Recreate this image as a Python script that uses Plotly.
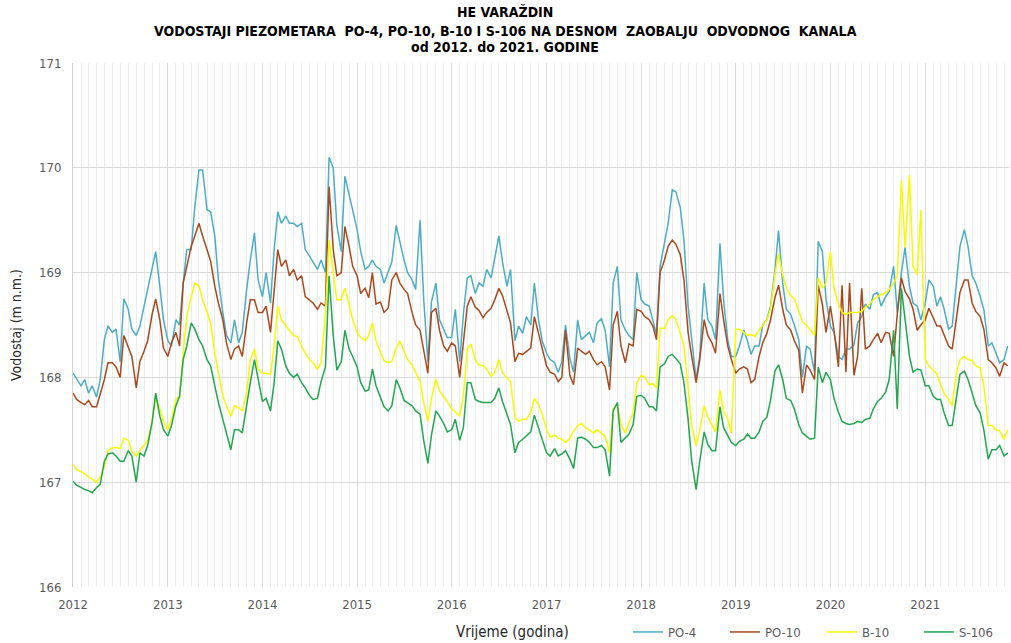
import pandas as pd
import plotly.graph_objects as go

# Semi-monthly groundwater levels (m n.m.), one row per year 2012-2021
po4 = [
    168.04, 167.98, 167.92, 167.98, 167.85, 167.92, 167.81, 167.98, 168.36, 168.49, 168.43, 168.46, 168.15, 168.75, 168.65, 168.46, 168.40, 168.49, 168.68, 168.84, 169.06, 169.20, 168.87, 168.55,
    168.35, 168.30, 168.55, 168.50, 168.90, 169.22, 169.22, 169.63, 169.98, 169.98, 169.60, 169.58, 169.35, 168.93, 168.62, 168.40, 168.33, 168.55, 168.33, 168.43, 168.84, 169.12, 169.38, 168.93,
    168.77, 169.00, 168.71, 169.22, 169.58, 169.47, 169.54, 169.47, 169.47, 169.44, 169.47, 169.22, 169.16, 169.10, 169.03, 169.12, 169.00, 170.10, 170.00, 169.45, 169.20, 169.92, 169.75, 169.60,
    169.41, 169.20, 169.03, 169.06, 169.12, 169.06, 169.03, 168.90, 169.00, 169.10, 169.45, 169.28, 169.12, 169.00, 168.93, 168.84, 169.50, 168.75, 168.15, 168.72, 168.90, 168.55, 168.46, 168.38,
    168.38, 168.65, 168.15, 168.60, 168.95, 168.97, 168.80, 168.90, 168.87, 169.03, 168.95, 169.12, 169.35, 169.10, 168.87, 169.03, 168.35, 168.49, 168.42, 168.58, 168.50, 168.90, 168.55, 168.35,
    168.23, 168.17, 168.14, 168.05, 168.15, 168.50, 168.18, 168.05, 168.55, 168.36, 168.40, 168.43, 168.33, 168.52, 168.56, 168.45, 168.10, 168.90, 169.06, 168.55, 168.45, 168.40, 168.36, 169.00,
    168.74, 168.70, 168.68, 168.55, 168.41, 169.06, 169.28, 169.47, 169.79, 169.77, 169.62, 169.31, 168.68, 168.36, 167.98, 168.20, 168.90, 168.55, 168.49, 168.36, 169.28, 168.74, 168.36, 168.20,
    168.20, 168.30, 168.45, 168.35, 168.22, 168.30, 168.30, 168.50, 168.55, 168.68, 169.02, 169.40, 168.90, 168.65, 168.60, 168.50, 168.36, 168.00, 168.30, 168.27, 168.05, 169.30, 169.20, 168.75,
    168.49, 168.43, 168.20, 168.17, 168.27, 168.27, 168.31, 168.52, 168.58, 168.70, 168.65, 168.79, 168.81, 168.68, 168.77, 168.82, 169.06, 168.62, 169.00, 169.24, 168.87, 168.71, 168.68, 168.55,
    168.71, 168.93, 168.87, 168.68, 168.77, 168.65, 168.46, 168.49, 168.90, 169.25, 169.41, 169.25, 168.97, 168.90, 168.77, 168.65, 168.30, 168.33, 168.23, 168.14, 168.17, 168.30,
]

po10 = [
    167.85, 167.79, 167.76, 167.74, 167.78, 167.72, 167.72, 167.85, 167.98, 168.14, 168.14, 168.10, 168.00, 168.40, 168.28, 168.20, 167.90, 168.15, 168.25, 168.35, 168.60, 168.75, 168.55, 168.28,
    168.20, 168.33, 168.43, 168.30, 168.90, 169.06, 169.25, 169.35, 169.47, 169.35, 169.22, 169.11, 168.87, 168.71, 168.55, 168.33, 168.17, 168.27, 168.30, 168.20, 168.52, 168.74, 168.74, 168.62,
    168.62, 168.68, 168.43, 168.87, 169.22, 169.06, 169.12, 168.97, 169.03, 168.93, 168.97, 168.77, 168.74, 168.71, 168.65, 168.71, 168.68, 169.82, 169.22, 168.97, 169.00, 169.44, 169.25, 169.06,
    168.97, 168.80, 168.85, 168.76, 169.00, 168.70, 168.72, 168.62, 168.66, 168.93, 169.00, 168.90, 168.84, 168.80, 168.62, 168.50, 168.45, 168.25, 168.04, 168.62, 168.66, 168.45, 168.30, 168.25,
    168.33, 168.30, 168.00, 168.33, 168.68, 168.77, 168.67, 168.64, 168.57, 168.62, 168.66, 168.74, 168.85, 168.78, 168.63, 168.52, 168.15, 168.23, 168.22, 168.25, 168.28, 168.58, 168.42, 168.26,
    168.11, 168.05, 168.03, 167.96, 168.00, 168.45, 168.02, 167.93, 168.28, 168.25, 168.22, 168.25, 168.17, 168.12, 168.15, 168.10, 167.88, 168.50, 168.63, 168.30, 168.14, 168.32, 168.30, 168.65,
    168.63, 168.58, 168.55, 168.49, 168.36, 169.00, 169.12, 169.25, 169.31, 169.27, 169.17, 168.93, 168.43, 168.20, 167.95, 168.17, 168.55, 168.40, 168.33, 168.23, 168.80, 168.55, 168.30, 168.17,
    168.04, 168.08, 168.10, 168.08, 167.95, 167.98, 168.20, 168.33, 168.42, 168.55, 168.76, 168.88, 168.65, 168.50, 168.45, 168.35, 168.26, 167.85, 168.12, 168.07, 167.98, 168.88, 168.70, 168.43,
    168.68, 168.45, 168.10, 168.88, 168.05, 168.90, 168.02, 168.20, 168.85, 168.27, 168.30, 168.36, 168.42, 168.33, 168.43, 168.42, 168.20, 168.60, 168.95, 168.82, 168.75, 168.65, 168.45, 168.50,
    168.55, 168.66, 168.57, 168.49, 168.49, 168.41, 168.30, 168.27, 168.55, 168.81, 168.93, 168.93, 168.71, 168.63, 168.58, 168.46, 168.17, 168.14, 168.09, 168.01, 168.14, 168.11,
]

b10 = [
    167.17, 167.12, 167.10, 167.08, 167.05, 167.03, 167.00, 167.05, 167.15, 167.30, 167.33, 167.33, 167.32, 167.42, 167.40, 167.30, 167.25, 167.30, 167.35, 167.40, 167.57, 167.80, 167.70, 167.58,
    167.50, 167.60, 167.79, 167.82, 168.23, 168.58, 168.77, 168.90, 168.87, 168.74, 168.62, 168.52, 168.23, 168.04, 167.82, 167.73, 167.63, 167.73, 167.71, 167.68, 167.85, 168.17, 168.27, 168.08,
    168.04, 168.04, 168.03, 168.30, 168.68, 168.55, 168.49, 168.45, 168.40, 168.39, 168.30, 168.23, 168.17, 168.14, 168.08, 168.14, 168.60, 169.31, 169.00, 168.74, 168.74, 168.85, 168.70, 168.55,
    168.43, 168.38, 168.35, 168.40, 168.52, 168.35, 168.24, 168.16, 168.14, 168.15, 168.28, 168.35, 168.25, 168.17, 168.12, 168.04, 167.96, 167.76, 167.58, 167.80, 167.98, 167.87, 167.82, 167.77,
    167.70, 167.67, 167.63, 167.82, 168.27, 168.32, 168.17, 168.12, 168.11, 168.08, 168.01, 168.05, 168.17, 168.04, 168.00, 167.96, 167.62, 167.58, 167.60, 167.60, 167.66, 167.80, 167.74, 167.65,
    167.50, 167.43, 167.45, 167.42, 167.41, 167.38, 167.42, 167.49, 167.54, 167.56, 167.52, 167.50, 167.47, 167.50, 167.47, 167.44, 167.28, 167.70, 167.75, 167.55, 167.47, 167.57, 167.66, 167.95,
    168.02, 168.00, 167.93, 167.94, 167.90, 168.47, 168.47, 168.55, 168.59, 168.55, 168.42, 168.30, 167.90, 167.54, 167.35, 167.50, 167.73, 167.62, 167.55, 167.48, 167.88, 167.68, 167.60, 167.47,
    168.46, 168.46, 168.43, 168.40, 168.41, 168.39, 168.45, 168.50, 168.55, 168.65, 168.98, 169.18, 168.98, 168.85, 168.78, 168.75, 168.64, 168.53, 168.50, 168.45, 168.40, 168.95, 168.85, 168.90,
    169.20, 168.85, 168.70, 168.62, 168.60, 168.62, 168.62, 168.62, 168.63, 168.67, 168.70, 168.74, 168.77, 168.79, 168.81, 168.84, 168.90, 168.97, 169.88, 169.24, 169.93, 169.06, 168.98, 169.60,
    168.17, 168.11, 168.06, 168.03, 167.93, 167.85, 167.79, 167.73, 168.04, 168.17, 168.20, 168.17, 168.16, 168.11, 168.09, 167.92, 167.54, 167.54, 167.50, 167.49, 167.41, 167.50,
]

s106 = [
    167.01, 166.97, 166.95, 166.93, 166.92, 166.90, 166.95, 166.98, 167.20, 167.27, 167.28, 167.25, 167.20, 167.20, 167.30, 167.25, 167.00, 167.28, 167.25, 167.35, 167.57, 167.85, 167.63, 167.50,
    167.44, 167.54, 167.73, 167.82, 168.17, 168.30, 168.52, 168.46, 168.36, 168.30, 168.17, 168.11, 167.92, 167.76, 167.60, 167.47, 167.31, 167.50, 167.50, 167.47, 167.76, 167.95, 168.17, 167.98,
    167.77, 167.80, 167.68, 167.95, 168.35, 168.27, 168.11, 168.04, 168.00, 168.03, 167.95, 167.90, 167.83, 167.79, 167.80, 167.96, 168.10, 168.97, 168.40, 168.07, 168.15, 168.45, 168.27, 168.20,
    168.10, 167.95, 167.87, 167.88, 168.08, 167.92, 167.82, 167.72, 167.68, 167.73, 167.98, 167.90, 167.78, 167.76, 167.73, 167.68, 167.65, 167.40, 167.18, 167.45, 167.68, 167.63, 167.56, 167.48,
    167.50, 167.60, 167.40, 167.52, 167.95, 167.95, 167.79, 167.77, 167.76, 167.76, 167.76, 167.80, 167.90, 167.77, 167.65, 167.55, 167.28, 167.38, 167.41, 167.44, 167.48, 167.64, 167.52, 167.42,
    167.28, 167.25, 167.32, 167.25, 167.27, 167.30, 167.22, 167.13, 167.42, 167.43, 167.41, 167.38, 167.33, 167.33, 167.35, 167.31, 167.06, 167.68, 167.76, 167.38, 167.42, 167.46, 167.55, 167.82,
    167.83, 167.80, 167.72, 167.72, 167.68, 168.10, 168.13, 168.20, 168.22, 168.18, 168.13, 167.95, 167.60, 167.20, 166.93, 167.20, 167.48, 167.36, 167.30, 167.30, 167.72, 167.52, 167.45, 167.38,
    167.35, 167.39, 167.41, 167.46, 167.42, 167.42, 167.48, 167.58, 167.62, 167.78, 168.06, 168.12, 167.98, 167.80, 167.78, 167.70, 167.55, 167.47, 167.44, 167.41, 167.42, 168.10, 167.95, 168.05,
    167.98, 167.80, 167.67, 167.58, 167.56, 167.55, 167.56, 167.58, 167.57, 167.60, 167.61, 167.70, 167.77, 167.80, 167.86, 167.98, 168.45, 167.70, 168.85, 168.55, 168.20, 168.05, 168.08, 168.07,
    167.92, 167.92, 167.82, 167.79, 167.79, 167.66, 167.54, 167.54, 167.79, 168.03, 168.06, 167.98, 167.85, 167.73, 167.66, 167.50, 167.22, 167.31, 167.31, 167.35, 167.25, 167.28,
]

series_names = ["PO-4", "PO-10", "B-10", "S-106"]
series_values = [po4, po10, b10, s106]
series_colors = ["#4bacc6", "#a9481d", "#f8f800", "#1fa64f"]

# Readings taken on the 1st and 15th of every month
dates = pd.date_range("2012-01-01", periods=len(po4), freq="SMS")

NARROW = "Liberation Sans Narrow, DejaVu Sans Condensed, Arial Narrow, sans-serif"

W, H = 1011, 643
L, R, T, B = 73, 1, 63, 56
plot_w = W - L - R
plot_h = H - T - B


def px_x(px):
    return (px - L) / plot_w


def px_y(py):
    return (H - B - py) / plot_h


fig = go.Figure()
for name, vals, col in zip(series_names, series_values, series_colors):
    fig.add_trace(go.Scatter(
        x=dates[:len(vals)], y=vals, mode="lines", name=name,
        line=dict(color=col, width=1.5),
    ))

title_lines = [
    ("<b>HE VARAŽDIN</b>", 12, 14),
    ("<b>VODOSTAJI PIEZOMETARA\u00a0 PO-4, PO-10, B-10 I S-106 NA DESNOM\u00a0 ZAOBALJU\u00a0 ODVODNOG\u00a0 KANALA</b>", 31, 14),
    ("<b>od 2012. do 2021. GODINE</b>", 47, 14),
]
annotations = []
for text, py, size in title_lines:
    annotations.append(dict(
        text=text, xref="paper", yref="paper", x=px_x(505), y=px_y(py),
        xanchor="center", yanchor="middle", showarrow=False,
        font=dict(family=NARROW, size=size, color="#000000"),
    ))
annotations.append(dict(
    text="Vrijeme (godina)", xref="paper", yref="paper", x=px_x(512), y=px_y(632),
    xanchor="center", yanchor="middle", showarrow=False,
    font=dict(family=NARROW, size=15, color="#262626"),
))

fig.update_layout(
    width=W, height=H, autosize=False,
    margin=dict(l=L, r=R, t=T, b=B, autoexpand=False),
    paper_bgcolor="white", plot_bgcolor="white",
    font=dict(family=NARROW, color="#595959", size=13),
    annotations=annotations,
    showlegend=True,
    legend=dict(
        orientation="h", x=px_x(628), xanchor="left", y=px_y(632), yanchor="middle",
        font=dict(family=NARROW, size=13, color="#595959"),
        entrywidth=52, entrywidthmode="pixels",
        bgcolor="rgba(0,0,0,0)", traceorder="normal",
    ),
    xaxis=dict(
        type="date", range=["2012-01-01", "2021-11-24"],
        tick0="2012-01-01", dtick="M12", tickformat="%Y",
        showgrid=True, gridcolor="#d9d9d9", gridwidth=1,
        minor=dict(dtick="M1", showgrid=True, gridcolor="#ececec", gridwidth=1),
        zeroline=False, showline=False, ticks="", ticklabelstandoff=8,
        tickfont=dict(family=NARROW, size=13, color="#595959"),
    ),
    yaxis=dict(
        range=[166, 171], dtick=1, tick0=166,
        showgrid=True, gridcolor="#d9d9d9", gridwidth=1,
        zeroline=False, showline=True, linecolor="#d0d0d0", linewidth=1,
        ticks="", ticklabelstandoff=8,
        tickfont=dict(family=NARROW, size=13, color="#595959"),
        title=dict(text="Vodostaj (m n.m.)", standoff=14,
                   font=dict(family=NARROW, size=14, color="#262626")),
    ),
)

fig.write_html("out.html")
